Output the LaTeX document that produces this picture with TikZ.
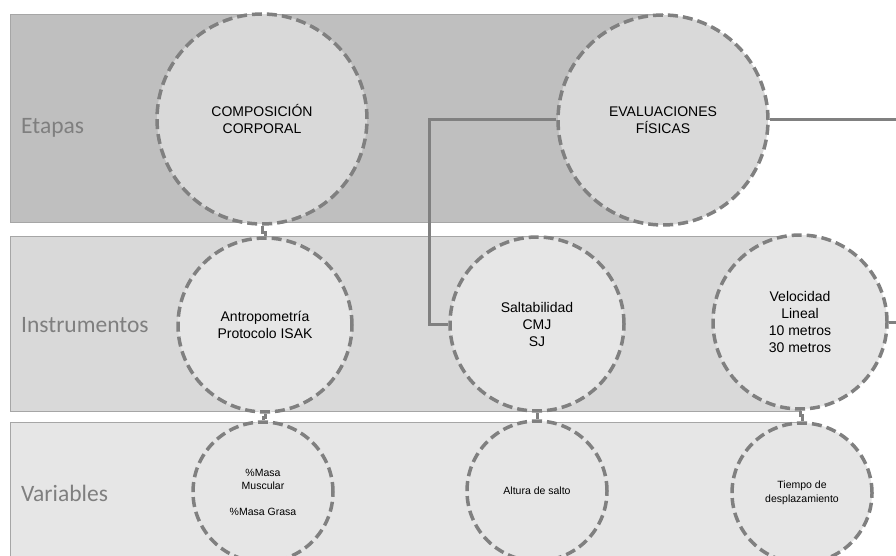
\documentclass[tikz,border=0pt]{standalone}
\usepackage{fontspec}
\setmainfont{Liberation Sans}
\newfontfamily\labfont{Carlito}
\definecolor{bandA}{HTML}{BFBFBF}
\definecolor{bandB}{HTML}{D9D9D9}
\definecolor{bandC}{HTML}{E6E6E6}
\definecolor{edgeg}{HTML}{A6A6A6}
\definecolor{lineg}{HTML}{808080}
\definecolor{labg}{HTML}{7F7F7F}
\begin{document}
\begin{tikzpicture}[x=1pt,y=-1pt,
  band/.style={draw=edgeg,line width=0.8pt},
  bubble/.style={circle,draw=lineg,line width=3.5pt,dash pattern=on 10pt off 5pt,inner sep=0pt,align=center,text=black},
  big/.style={bubble,minimum size=210pt,fill=bandB,font=\fontsize{14}{16.5}\selectfont},
  mid/.style={bubble,minimum size=174pt,fill=bandC,font=\fontsize{14}{17}\selectfont},
  small/.style={bubble,minimum size=140pt,fill=bandC,font=\fontsize{10.5}{13.5}\selectfont},
  rowlab/.style={anchor=west,text=labg,font=\labfont\fontsize{23.5}{28}\selectfont,inner sep=0pt},
  conn/.style={draw=lineg,line width=3pt}]
\useasboundingbox (0,0) rectangle (896,556);
\clip (0,0) rectangle (896,556);
\fill[white] (0,0) rectangle (896,556);
% bands
\draw[band,fill=bandA] (10,14) rectangle (663,222);
\draw[band,fill=bandB] (10,236) rectangle (800,411);
\draw[band,fill=bandC] (10,422) rectangle (802,580);
% labels
\node[rowlab] (lE) at (21,128) {Etapas};
\node[rowlab] (lI) at (21,325) {Instrumentos};
\node[rowlab] (lV) at (21,493) {Variables};
% helper coordinates
\coordinate (elbow) at (429,200);
\coordinate (rx) at (896,0);
% circles
\node[big] (comp) at (262,119) {COMPOSICIÓN\\CORPORAL};
\node[big] (eval) at (663,120) {EVALUACIONES\\FÍSICAS};
\node[mid] (antro) at (265,325) {Antropometría\\Protocolo ISAK};
\node[mid] (salt) at (537,324) {Saltabilidad\\CMJ\\SJ};
\node[mid] (velo) at (800,322) {Velocidad\\Lineal\\10 metros\\30 metros};
\node[small] (masa) at (263,492) {\%Masa\\Muscular\\[12pt]\%Masa Grasa};
\node[small] (alt) at (537,491) {Altura de salto};
\node[small] (tiem) at (802,493) {Tiempo de\\desplazamiento};
% connectors
\draw[conn] (comp.south) -- ++(0,7) -| (antro.north);
\draw[conn] (antro.south) -- ++(0,4) -| (masa.north);
\draw[conn] (salt.south) -- (alt.north);
\draw[conn] (velo.south) -- ++(0,5) -| (tiem.north);
\draw[conn] (eval.west) -| (elbow) |- (salt.west);
\draw[conn] (eval.east) -- (eval.east -| rx);
\draw[conn] (velo.east) -- (velo.east -| rx);
\end{tikzpicture}
\end{document}
